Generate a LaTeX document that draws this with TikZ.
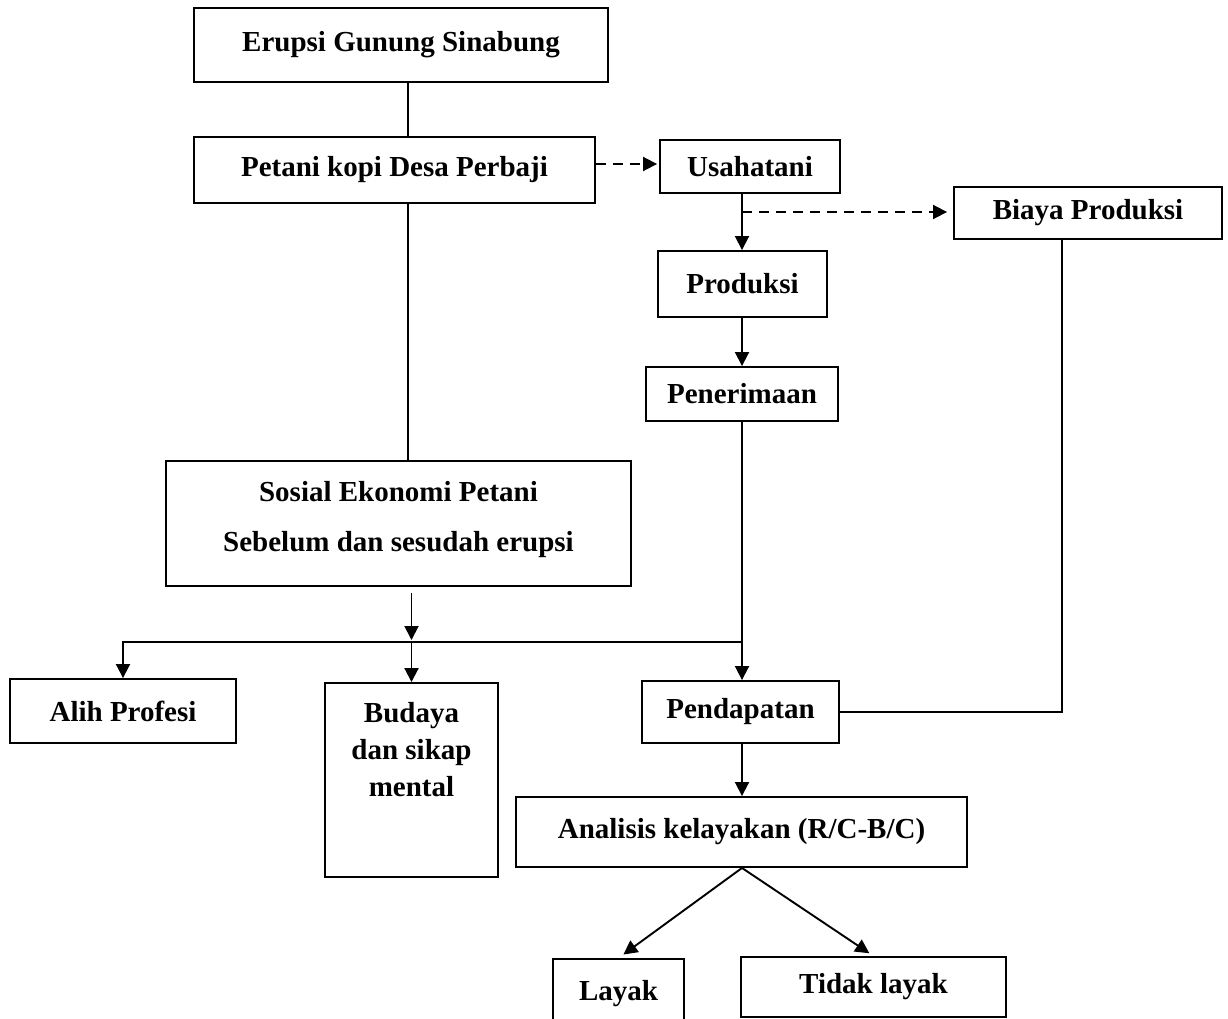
\documentclass[tikz,border=0pt]{standalone}
\usepackage{fontspec}
\setmainfont{Liberation Serif}
\usetikzlibrary{arrows.meta}
\begin{document}
\begin{tikzpicture}[x=1pt,y=-1pt,
  box/.style={draw, line width=1.9pt, inner sep=0pt, align=center, font=\fontsize{29}{35}\selectfont\bfseries},
  txt/.style={inner sep=0pt, align=center, font=\fontsize{29}{37}\selectfont\bfseries},
  ln/.style={line width=1.9pt},
  arr/.style={line width=1.9pt, -{Triangle[length=14pt,width=14pt]}},
  dasharr/.style={arr, dash pattern=on 10pt off 7pt}]
\useasboundingbox (0,0) rectangle (1228,1019);
\node[box, minimum width=414pt, minimum height=74pt] (erupsi) at (401,45) {Erupsi Gunung Sinabung};
\node[box, minimum width=401pt, minimum height=66pt] (petani) at (394.5,170) {Petani kopi Desa Perbaji};
\node[box, minimum width=180pt, minimum height=53pt] (usaha) at (750,166.5) {Usahatani};
\node[box, minimum width=268pt, minimum height=52pt] (biaya) at (1088,213) {Biaya Produksi};
\node[box, minimum width=169pt, minimum height=66pt] (produksi) at (742.5,284) {Produksi};
\node[box, minimum width=192pt, minimum height=54pt] (penerimaan) at (742,394) {Penerimaan};
\node[box, minimum width=465pt, minimum height=125pt] (sosial) at (398.5,523.5) {};
\node[txt, anchor=north, font=\fontsize{29}{35}\selectfont\bfseries] (sosialtxt) at (398.5,481) {Sosial Ekonomi Petani\\[15pt]Sebelum dan sesudah erupsi};
\node[box, minimum width=226pt, minimum height=64pt] (alih) at (123,711) {Alih Profesi};
\node[box, minimum width=173pt, minimum height=194pt] (budaya) at (411.5,780) {};
\node[txt, anchor=north] (budayatxt) at (411.5,702) {Budaya\\dan sikap\\mental};
\node[box, minimum width=197pt, minimum height=62pt] (pendapatan) at (740.5,712) {Pendapatan};
\node[box, minimum width=451pt, minimum height=70pt] (analisis) at (741.5,832) {Analisis kelayakan (R/C-B/C)};
\node[box, minimum width=131pt, minimum height=70pt] (layak) at (618.5,994) {Layak};
\node[box, minimum width=265pt, minimum height=60pt] (tidak) at (873.5,987) {Tidak layak};
% connectors
\coordinate (spine) at (408,0);
\coordinate (trunk) at (742,0);
\coordinate (dashy) at (0,164);
\coordinate (branch) at (742,212);
\coordinate (bus) at (0,642);
\coordinate (bx) at (1062,0);
\draw[ln] (erupsi.south -| spine) -- (petani.north -| spine);
\draw[ln] (petani.south -| spine) -- (sosial.north -| spine);
\draw[dasharr, shorten >=2pt] (petani.east |- dashy) -- (usaha.west |- dashy);
\draw[arr] (usaha.south -| trunk) -- (produksi.north -| trunk);
\draw[dasharr, shorten >=6pt] (branch) -- (biaya.west |- branch);
\draw[arr] (produksi.south -| trunk) -- (penerimaan.north -| trunk);
\draw[arr] (penerimaan.south -| trunk) -- (pendapatan.north -| trunk);
\draw[arr, shorten <=6pt, shorten >=2pt] (sosial.south -| budaya) -- (bus -| budaya);
\draw[arr] (bus -| trunk) -- (bus -| alih) -- (alih.north);
\draw[arr] (bus -| budaya) -- (budaya.north);
\draw[arr] (pendapatan.south -| trunk) -- (analisis.north -| trunk);
\draw[ln] (biaya.south -| bx) -- (pendapatan.east -| bx) -- (pendapatan.east);
\draw[arr, shorten >=6pt] (analisis.south -| trunk) -- (layak.north);
\draw[arr, shorten >=5pt] (analisis.south -| trunk) -- (tidak.north);
\end{tikzpicture}
\end{document}
